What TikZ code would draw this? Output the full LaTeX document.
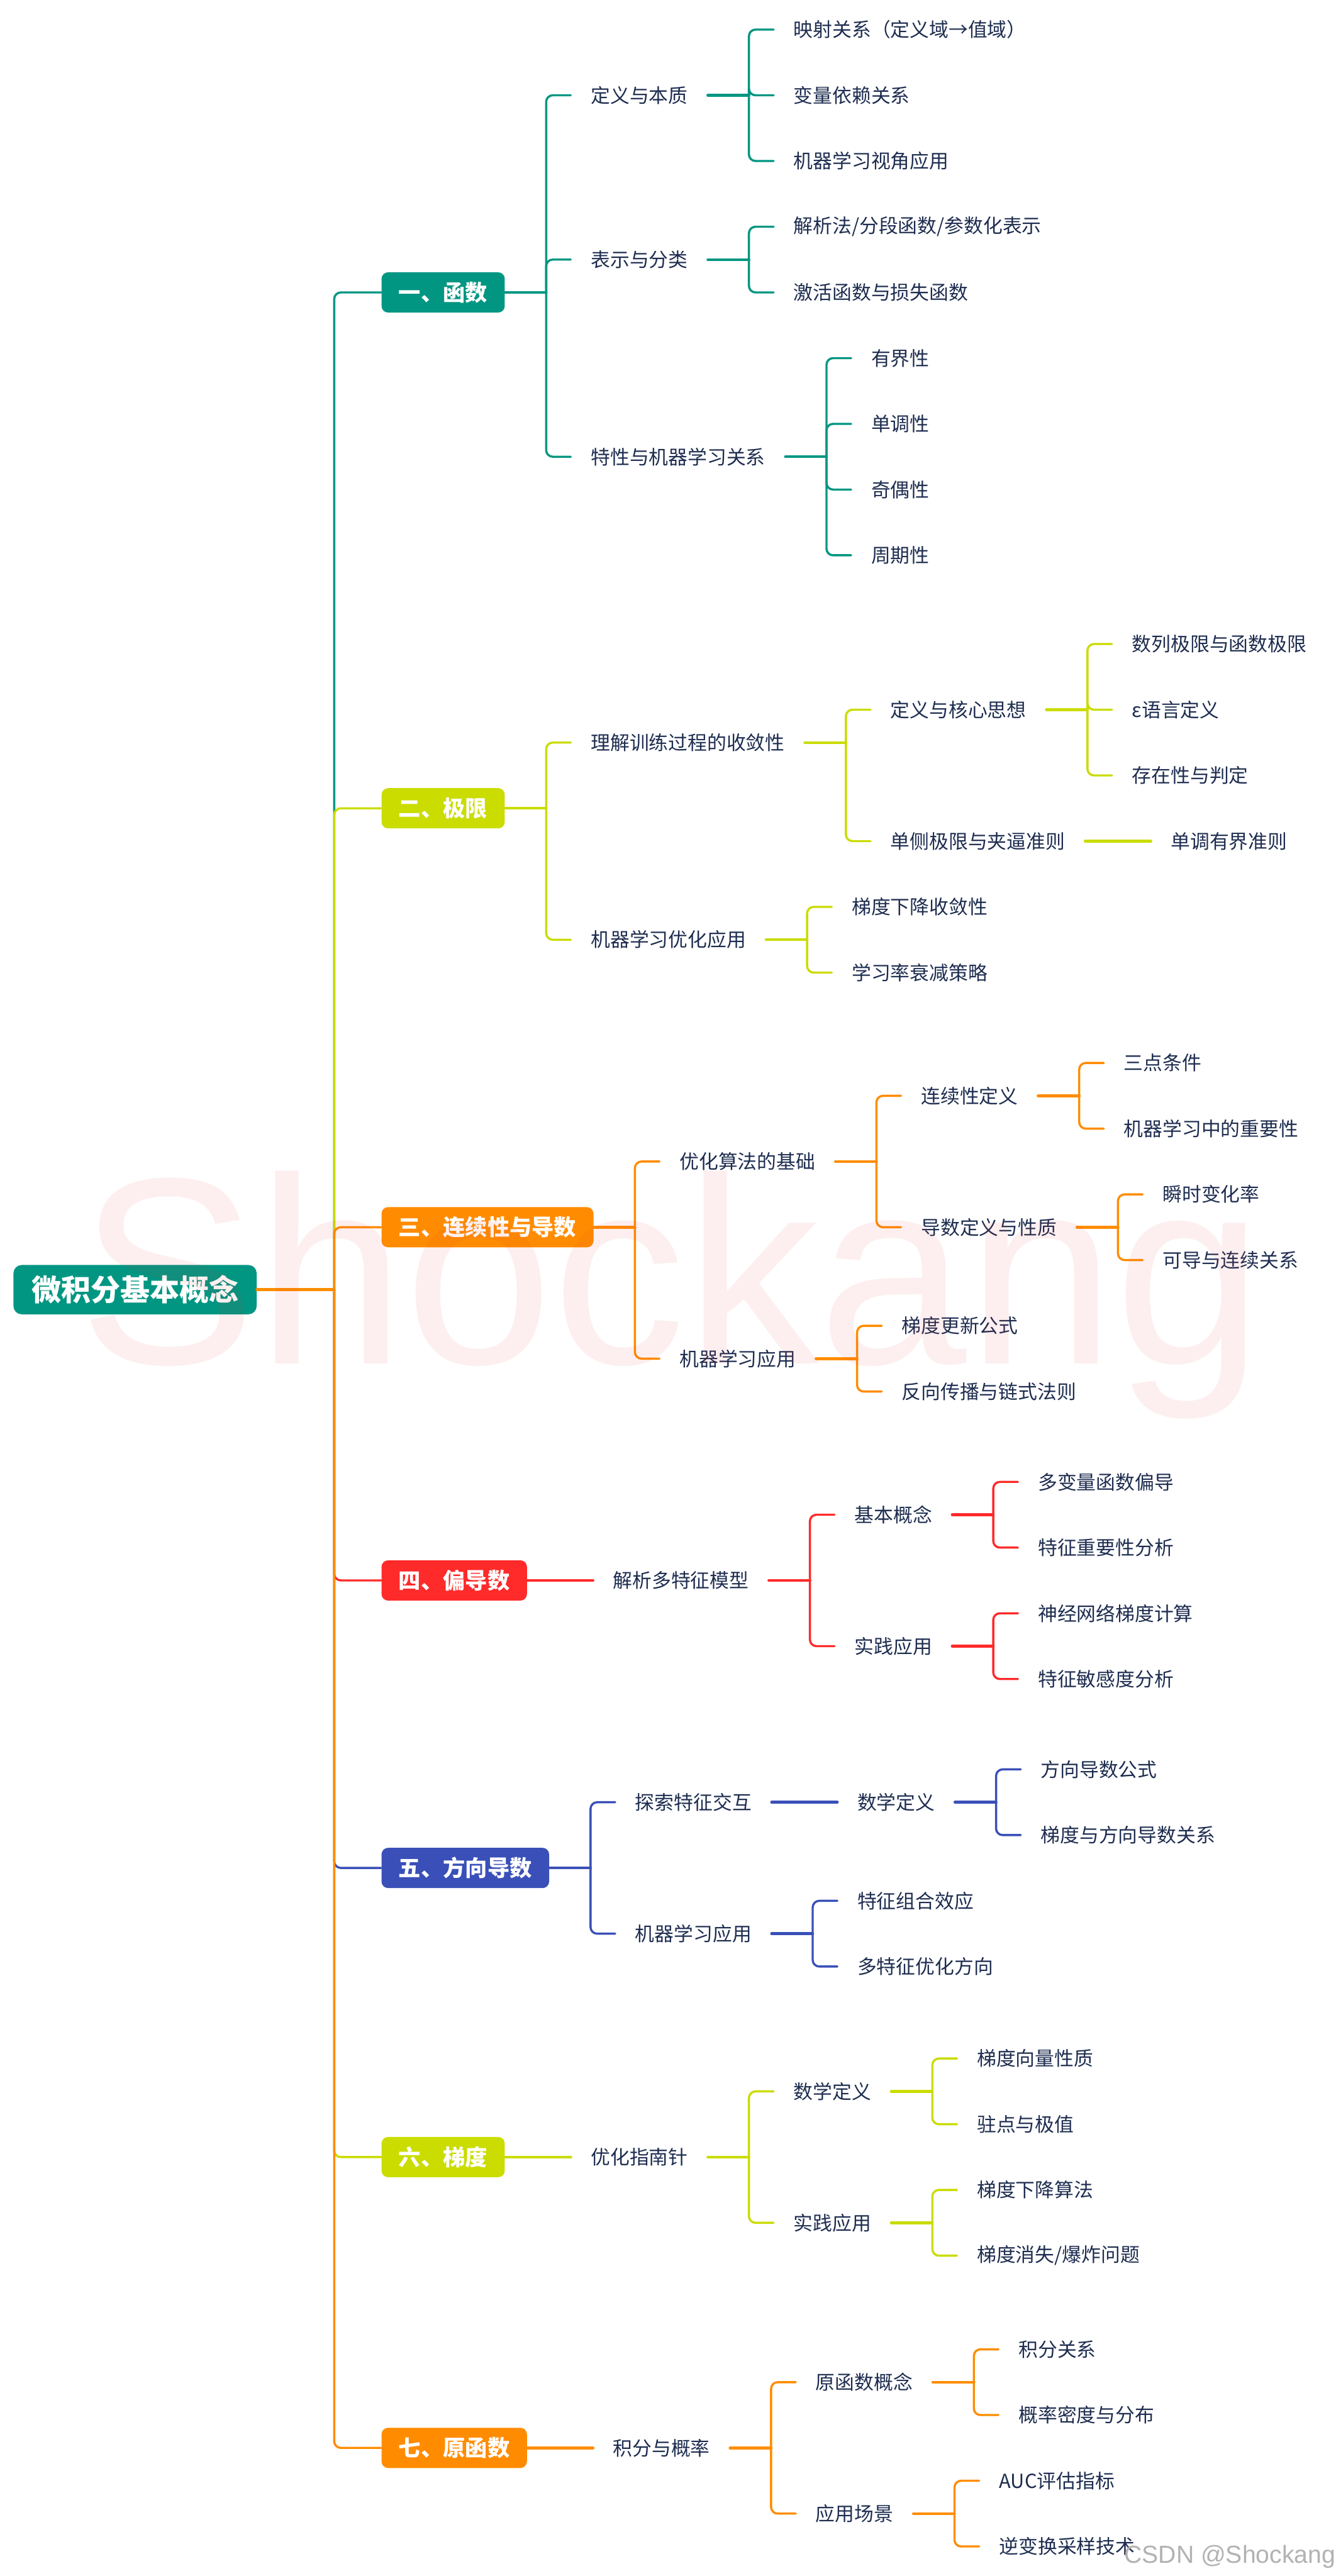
\documentclass[tikz,border=0pt]{standalone}
\usepackage{fontspec}
\setmainfont{Noto Sans CJK SC}
\newfontfamily\latinsans{Liberation Sans}
\usetikzlibrary{positioning}

\definecolor{cTeal}{RGB}{0,150,130}
\definecolor{cLime}{RGB}{202,220,0}
\definecolor{cOrange}{RGB}{255,140,0}
\definecolor{cRed}{RGB}{255,42,42}
\definecolor{cBlue}{RGB}{58,80,184}
\definecolor{cText}{RGB}{30,45,80}
\definecolor{cMark}{RGB}{240,60,60}

\begin{document}
\begin{tikzpicture}[x=1pt,y=-1pt,line cap=round,line join=round,
  rootbox/.style={fill=cTeal,text=white,rounded corners=5pt,anchor=west,
    inner xsep=11pt,minimum height=30pt,font=\fontsize{18}{20}\selectfont\bfseries},
  topic/.style={fill=#1,text=white,rounded corners=4pt,anchor=west,
    inner xsep=10.5pt,minimum height=24.5pt,font=\fontsize{13.5}{15}\selectfont\bfseries},
  item/.style={text=cText,inner xsep=12pt,anchor=west,font=\fontsize{11.8}{13}\selectfont},
  stub/.style={draw=#1,line width=1.7pt},
  twig/.style={draw=#1,line width=1.3pt,rounded corners=4pt}]

  \fill[white] (0,0) rectangle (813,1568);
  \useasboundingbox (0,0) rectangle (813,1568);

  % Root and topics
  \node[rootbox] (root) at (8,785) {微积分基本概念};
  \node[topic=cTeal]   (fn)   at (232,178)  {一、函数};
  \node[topic=cLime]   (lim)  at (232,492)  {二、极限};
  \node[topic=cOrange] (cont) at (232,747)  {三、连续性与导数};
  \node[topic=cRed]    (part) at (232,962)  {四、偏导数};
  \node[topic=cBlue]   (dir)  at (232,1137) {五、方向导数};
  \node[topic=cLime]   (grad) at (232,1313) {六、梯度};
  \node[topic=cOrange] (prim) at (232,1490) {七、原函数};

  \draw[stub=cOrange] (root.east) -- ++(47,0) coordinate (trunk);
  \foreach \t/\c in {fn/cTeal,lim/cLime,cont/cOrange,part/cRed,dir/cBlue,grad/cLime,prim/cOrange}
    \draw[twig=\c] (trunk) |- (\t.west);

  % Branch one
  \node[item, right=40pt of fn, yshift=120pt]   (fnDef) {定义与本质};
  \node[item, right=40pt of fn, yshift=20pt]    (fnRep) {表示与分类};
  \node[item, right=40pt of fn, yshift=-100pt]  (fnPro) {特性与机器学习关系};
  \node[item, right=40pt of fnDef, yshift=40pt]  (fnDef1) {映射关系（定义域→值域）};
  \node[item, right=40pt of fnDef]               (fnDef2) {变量依赖关系};
  \node[item, right=40pt of fnDef, yshift=-40pt] (fnDef3) {机器学习视角应用};
  \node[item, right=40pt of fnRep, yshift=20pt]  (fnRep1) {解析法/分段函数/参数化表示};
  \node[item, right=40pt of fnRep, yshift=-20pt] (fnRep2) {激活函数与损失函数};
  \node[item, right=40pt of fnPro, yshift=60pt]  (fnPro1) {有界性};
  \node[item, right=40pt of fnPro, yshift=20pt]  (fnPro2) {单调性};
  \node[item, right=40pt of fnPro, yshift=-20pt] (fnPro3) {奇偶性};
  \node[item, right=40pt of fnPro, yshift=-60pt] (fnPro4) {周期性};

  \foreach \p/\kids in {fn/{fnDef,fnRep,fnPro},fnDef/{fnDef1,fnDef2,fnDef3},
      fnRep/{fnRep1,fnRep2},fnPro/{fnPro1,fnPro2,fnPro3,fnPro4}}{
    \draw[stub=cTeal] (\p.east) -- ++(25,0) coordinate (j);
    \foreach \k in \kids \draw[twig=cTeal] (j) |- (\k.west);
  }

  % Branch two
  \node[item, right=40pt of lim, yshift=40pt]      (limConv) {理解训练过程的收敛性};
  \node[item, right=40pt of lim, yshift=-80pt]     (limApp)  {机器学习优化应用};
  \node[item, right=40pt of limConv, yshift=20pt]  (limCore) {定义与核心思想};
  \node[item, right=40pt of limConv, yshift=-60pt] (limSide) {单侧极限与夹逼准则};
  \node[item, right=40pt of limCore, yshift=40pt]  (limCore1) {数列极限与函数极限};
  \node[item, right=40pt of limCore]               (limCore2) {ε语言定义};
  \node[item, right=40pt of limCore, yshift=-40pt] (limCore3) {存在性与判定};
  \node[item, right=40pt of limSide]               (limSide1) {单调有界准则};
  \node[item, right=40pt of limApp, yshift=20pt]   (limApp1) {梯度下降收敛性};
  \node[item, right=40pt of limApp, yshift=-20pt]  (limApp2) {学习率衰减策略};

  \foreach \p/\kids in {lim/{limConv,limApp},limConv/{limCore,limSide},
      limCore/{limCore1,limCore2,limCore3},limApp/{limApp1,limApp2}}{
    \draw[stub=cLime] (\p.east) -- ++(25,0) coordinate (j);
    \foreach \k in \kids \draw[twig=cLime] (j) |- (\k.west);
  }
  \draw[stub=cLime] (limSide.east) -- (limSide1.west);

  % Branch three
  \node[item, right=40pt of cont, yshift=40pt]     (contBase) {优化算法的基础};
  \node[item, right=40pt of cont, yshift=-80pt]    (contApp)  {机器学习应用};
  \node[item, right=40pt of contBase, yshift=40pt]  (contDef) {连续性定义};
  \node[item, right=40pt of contBase, yshift=-40pt] (contDer) {导数定义与性质};
  \node[item, right=40pt of contDef, yshift=20pt]  (contDef1) {三点条件};
  \node[item, right=40pt of contDef, yshift=-20pt] (contDef2) {机器学习中的重要性};
  \node[item, right=40pt of contDer, yshift=20pt]  (contDer1) {瞬时变化率};
  \node[item, right=40pt of contDer, yshift=-20pt] (contDer2) {可导与连续关系};
  \node[item, right=40pt of contApp, yshift=20pt]  (contApp1) {梯度更新公式};
  \node[item, right=40pt of contApp, yshift=-20pt] (contApp2) {反向传播与链式法则};

  \foreach \p/\kids in {cont/{contBase,contApp},contBase/{contDef,contDer},
      contDef/{contDef1,contDef2},contDer/{contDer1,contDer2},contApp/{contApp1,contApp2}}{
    \draw[stub=cOrange] (\p.east) -- ++(25,0) coordinate (j);
    \foreach \k in \kids \draw[twig=cOrange] (j) |- (\k.west);
  }

  % Branch four
  \node[item, right=40pt of part]                    (partModel) {解析多特征模型};
  \node[item, right=40pt of partModel, yshift=40pt]  (partBasic) {基本概念};
  \node[item, right=40pt of partModel, yshift=-40pt] (partPrac)  {实践应用};
  \node[item, right=40pt of partBasic, yshift=20pt]  (partBasic1) {多变量函数偏导};
  \node[item, right=40pt of partBasic, yshift=-20pt] (partBasic2) {特征重要性分析};
  \node[item, right=40pt of partPrac, yshift=20pt]   (partPrac1) {神经网络梯度计算};
  \node[item, right=40pt of partPrac, yshift=-20pt]  (partPrac2) {特征敏感度分析};

  \draw[stub=cRed] (part.east) -- (partModel.west);
  \foreach \p/\kids in {partModel/{partBasic,partPrac},
      partBasic/{partBasic1,partBasic2},partPrac/{partPrac1,partPrac2}}{
    \draw[stub=cRed] (\p.east) -- ++(25,0) coordinate (j);
    \foreach \k in \kids \draw[twig=cRed] (j) |- (\k.west);
  }

  % Branch five
  \node[item, right=40pt of dir, yshift=40pt]      (dirInter) {探索特征交互};
  \node[item, right=40pt of dir, yshift=-40pt]     (dirApp)   {机器学习应用};
  \node[item, right=40pt of dirInter]              (dirMath)  {数学定义};
  \node[item, right=40pt of dirMath, yshift=20pt]  (dirMath1) {方向导数公式};
  \node[item, right=40pt of dirMath, yshift=-20pt] (dirMath2) {梯度与方向导数关系};
  \node[item, right=40pt of dirApp, yshift=20pt]   (dirApp1)  {特征组合效应};
  \node[item, right=40pt of dirApp, yshift=-20pt]  (dirApp2)  {多特征优化方向};

  \foreach \p/\kids in {dir/{dirInter,dirApp},
      dirMath/{dirMath1,dirMath2},dirApp/{dirApp1,dirApp2}}{
    \draw[stub=cBlue] (\p.east) -- ++(25,0) coordinate (j);
    \foreach \k in \kids \draw[twig=cBlue] (j) |- (\k.west);
  }
  \draw[stub=cBlue] (dirInter.east) -- (dirMath.west);

  % Branch six
  \node[item, right=40pt of grad]                    (gradGuide) {优化指南针};
  \node[item, right=40pt of gradGuide, yshift=40pt]  (gradMath)  {数学定义};
  \node[item, right=40pt of gradGuide, yshift=-40pt] (gradPrac)  {实践应用};
  \node[item, right=40pt of gradMath, yshift=20pt]   (gradMath1) {梯度向量性质};
  \node[item, right=40pt of gradMath, yshift=-20pt]  (gradMath2) {驻点与极值};
  \node[item, right=40pt of gradPrac, yshift=20pt]   (gradPrac1) {梯度下降算法};
  \node[item, right=40pt of gradPrac, yshift=-20pt]  (gradPrac2) {梯度消失/爆炸问题};

  \draw[stub=cLime] (grad.east) -- (gradGuide.west);
  \foreach \p/\kids in {gradGuide/{gradMath,gradPrac},
      gradMath/{gradMath1,gradMath2},gradPrac/{gradPrac1,gradPrac2}}{
    \draw[stub=cLime] (\p.east) -- ++(25,0) coordinate (j);
    \foreach \k in \kids \draw[twig=cLime] (j) |- (\k.west);
  }

  % Branch seven
  \node[item, right=40pt of prim]                   (primProb) {积分与概率};
  \node[item, right=40pt of primProb, yshift=40pt]  (primConc) {原函数概念};
  \node[item, right=40pt of primProb, yshift=-40pt] (primUse)  {应用场景};
  \node[item, right=40pt of primConc, yshift=20pt]  (primConc1) {积分关系};
  \node[item, right=40pt of primConc, yshift=-20pt] (primConc2) {概率密度与分布};
  \node[item, right=40pt of primUse, yshift=20pt]   (primUse1)  {AUC评估指标};
  \node[item, right=40pt of primUse, yshift=-20pt]  (primUse2)  {逆变换采样技术};

  \draw[stub=cOrange] (prim.east) -- (primProb.west);
  \foreach \p/\kids in {primProb/{primConc,primUse},
      primConc/{primConc1,primConc2},primUse/{primUse1,primUse2}}{
    \draw[stub=cOrange] (\p.east) -- ++(25,0) coordinate (j);
    \foreach \k in \kids \draw[twig=cOrange] (j) |- (\k.west);
  }

  % Watermarks
  \node[anchor=base west, inner sep=0pt, text=cMark, text opacity=0.08,
    font=\latinsans\fontsize{162}{162}\selectfont] (mark) at (48,830) {Shockang};
  \node[anchor=base west, inner sep=0pt, text=black!30,
    font=\latinsans\fontsize{15}{15}\selectfont] (csdn) at (684,1560) {CSDN @Shockang};
\end{tikzpicture}
\end{document}
